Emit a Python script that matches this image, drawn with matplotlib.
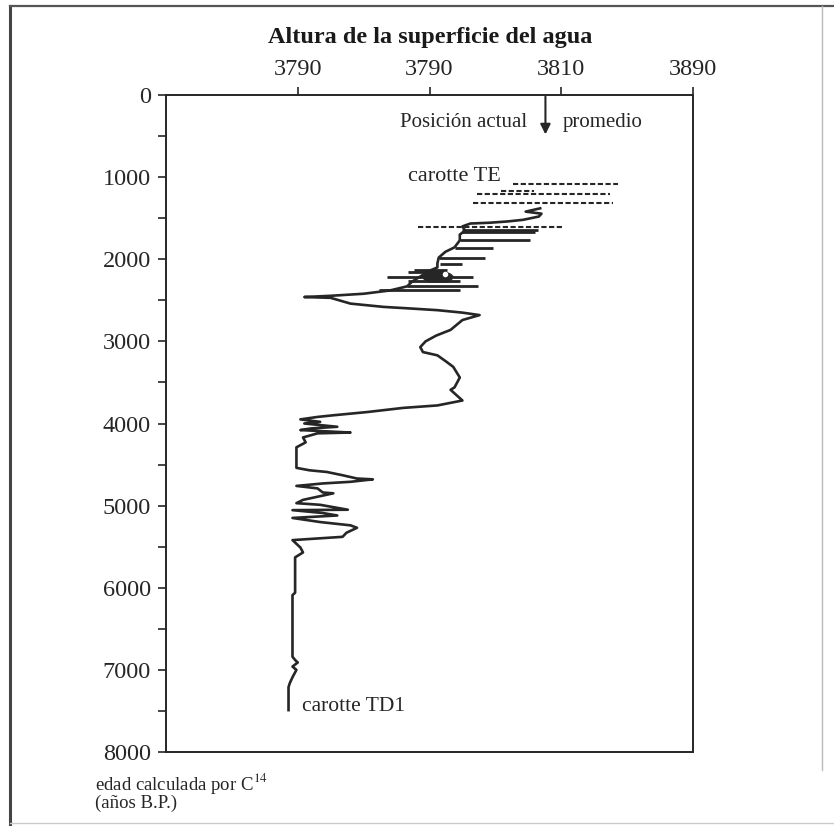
import matplotlib
matplotlib.use("Agg")
import matplotlib.pyplot as plt
from matplotlib.lines import Line2D

plt.rcParams['font.family'] = ['Liberation Serif', 'DejaVu Serif']
plt.rcParams['mathtext.fontset'] = 'stix'

INK = '#262626'

# main curve (carotte TD1 + TE): position on the water-level axis (tick units) vs age
main_age = [1380, 1420, 1445, 1480, 1520, 1540, 1555, 1565, 1600, 1650,
            1700, 1770, 1855, 1910, 1980, 2050, 2100, 2140, 2210, 2270,
            2330, 2380, 2420, 2445, 2460, 2470, 2540, 2580, 2600, 2620,
            2650, 2680, 2740, 2860, 2930, 3000, 3070, 3130, 3170, 3250,
            3310, 3440, 3560, 3590, 3720, 3780, 3810, 3860, 3900, 3920,
            3950, 3980, 4000, 4040, 4060, 4080, 4110, 4120, 4170, 4230,
            4290, 4540, 4570, 4590, 4630, 4670, 4680, 4710, 4730, 4760,
            4790, 4840, 4850, 4930, 4970, 4990, 5050, 5055, 5090, 5120,
            5150, 5200, 5240, 5270, 5330, 5380, 5400, 5420, 5510, 5570,
            5630, 6060, 6090, 6840, 6880, 6910, 6960, 7000, 7090, 7160,
            7210, 7490]
main_pos = [2.84, 2.73, 2.85, 2.83, 2.71, 2.59, 2.46, 2.31, 2.25, 2.27,
            2.23, 2.23, 2.19, 2.12, 2.07, 2.06, 2.06, 2.00, 1.93, 1.87,
            1.83, 1.70, 1.50, 1.25, 1.05, 1.25, 1.40, 1.65, 1.86, 2.06,
            2.25, 2.38, 2.25, 2.16, 2.05, 1.97, 1.93, 1.95, 2.06, 2.13,
            2.18, 2.23, 2.19, 2.16, 2.25, 2.06, 1.80, 1.53, 1.27, 1.15,
            1.02, 1.17, 1.05, 1.30, 1.10, 1.02, 1.40, 1.15, 1.04, 1.06,
            0.99, 0.99, 1.09, 1.22, 1.34, 1.45, 1.57, 1.40, 1.19, 0.99,
            1.15, 1.19, 1.27, 1.04, 0.99, 1.17, 1.38, 0.96, 1.19, 1.30,
            0.96, 1.17, 1.40, 1.45, 1.37, 1.34, 1.15, 0.96, 1.02, 1.04,
            0.98, 0.98, 0.96, 0.96, 0.98, 1.00, 0.96, 0.99, 0.96, 0.94,
            0.93, 0.93]

# solid horizontal ranges in the TE core
bar_age = [1640, 1670, 1770, 1860, 1980, 2060, 2130, 2160, 2220, 2260, 2330, 2380]
bar_left = [2.25, 2.25, 2.23, 2.19, 2.07, 2.08, 1.88, 1.84, 1.68, 1.84, 1.83, 1.62]
bar_right = [2.82, 2.80, 2.76, 2.48, 2.42, 2.25, 2.13, 2.12, 2.33, 2.23, 2.37, 2.23]

# dense blob around 2200
blob_age = [2140, 2170, 2200, 2240, 2280]
blob_left = [1.98, 1.95, 1.94, 1.95, 1.99]
blob_right = [2.12, 2.16, 2.18, 2.17, 2.14]
hole_pos, hole_age = 2.12, 2180

# dashed horizontal ranges (upper TE)
dash_age = [1080, 1165, 1210, 1320, 1610]
dash_left = [2.63, 2.54, 2.36, 2.33, 1.91]
dash_right = [3.43, 2.79, 3.37, 3.39, 3.01]

x_ticks = [1, 2, 3, 4]
x_labels = ['3790', '3790', '3810', '3890']
y_major = list(range(0, 8001, 1000))
y_minor = list(range(500, 8000, 1000))
present_pos = 2.88

fig = plt.figure(figsize=(8.34, 8.26), dpi=100)
ax = fig.add_axes([166 / 834, 1 - 752 / 826, 527 / 834, 657 / 826])

ax.plot(main_pos, main_age, color=INK, lw=1.9, solid_joinstyle='round')
ax.hlines(bar_age, bar_left, bar_right, color=INK, lw=2.0)
ax.fill_betweenx(blob_age, blob_left, blob_right, color=INK, lw=0)
ax.plot([hole_pos], [hole_age], 'o', color='white', ms=4, mec='none')
ax.hlines(dash_age, dash_left, dash_right, color=INK, lw=1.5,
          linestyles=[(0, (2.5, 1.2))])

ax.set_xlim(0, 4)
ax.set_ylim(8000, 0)
ax.xaxis.tick_top()
ax.set_xticks(x_ticks)
ax.set_xticklabels(x_labels)
ax.set_yticks(y_major)
ax.set_yticks(y_minor, minor=True)
ax.tick_params(axis='both', which='both', direction='out', length=6,
               width=1.2, colors=INK, labelsize=17.5, pad=5)
ax.tick_params(axis='y', pad=5)
for s in ax.spines.values():
    s.set_color(INK)
    s.set_linewidth(1.4)

fig.text(430 / 834, 1 - 38 / 826, 'Altura de la superficie del agua',
         ha='center', va='center', fontsize=17.5, fontweight='bold', color='#1a1a1a')

ax.annotate('', xy=(present_pos, 480), xytext=(present_pos, 20),
            arrowprops=dict(arrowstyle='-|>', color=INK, lw=1.5,
                            mutation_scale=15, shrinkA=0, shrinkB=0))
ax.text(2.74, 330, 'Posición actual', ha='right', va='center', fontsize=15, color=INK)
ax.text(3.01, 330, 'promedio', ha='left', va='center', fontsize=15, color=INK)
ax.text(2.19, 990, 'carotte TE', ha='center', va='center', fontsize=16, color=INK)
ax.text(1.03, 7450, 'carotte TD1', ha='left', va='center', fontsize=15.5, color=INK)

fig.text(95 / 834, 1 - 783 / 826, 'edad calculada por C$^{14}$',
         ha='left', va='center', fontsize=13.5, color=INK)
fig.text(95 / 834, 1 - 803 / 826, '(años B.P.)',
         ha='left', va='center', fontsize=13.5, color=INK)

# scanned page frame
fig.add_artist(Line2D([10 / 834, 10 / 834], [0, 1 - 6 / 826], color='#444', lw=2.2))
fig.add_artist(Line2D([10 / 834, 1], [1 - 6 / 826, 1 - 6 / 826], color='#555', lw=1.6))
fig.add_artist(Line2D([822 / 834, 822 / 834], [1 - 770 / 826, 1 - 6 / 826], color='#bbb', lw=1.0))
fig.add_artist(Line2D([10 / 834, 1], [1 - 823 / 826, 1 - 823 / 826], color='#ccc', lw=1.0))

fig.savefig('out.png', dpi=100)
